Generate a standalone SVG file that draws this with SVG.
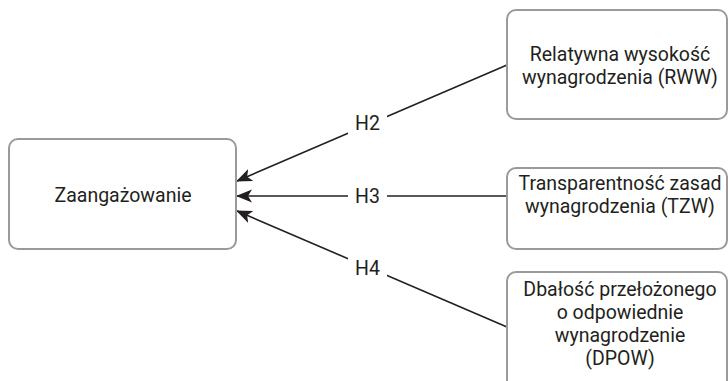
<svg xmlns="http://www.w3.org/2000/svg" width="728" height="381" viewBox="0 0 728 381">
<style>
.box{fill:#fff;stroke:#9a9a9a;stroke-width:2}
.t{font-family:Roboto,"Liberation Sans",sans-serif;font-size:19.5px;fill:#231f20;text-anchor:middle}
.edge{stroke:#231f20;stroke-width:1.6;fill:none}
.lbl{fill:#fff}
</style>
<defs>
<marker id="ah" viewBox="0 -7 16 14" refX="15" refY="0" markerWidth="16" markerHeight="14" markerUnits="userSpaceOnUse" orient="auto">
<path d="M0,-6.5 L16,0 L0,6.5 L4,0 Z" fill="#231f20"/>
</marker>
</defs>
<rect width="728" height="381" fill="#fff"/>
<g id="connectors">
<line class="edge" x1="507" y1="65" x2="237" y2="181" marker-end="url(#ah)"/>
<line class="edge" x1="507" y1="196" x2="237" y2="196" marker-end="url(#ah)"/>
<line class="edge" x1="507" y1="327" x2="237" y2="211" marker-end="url(#ah)"/>
<rect class="lbl" x="348" y="110" width="39" height="28"/>
<text class="t" x="367.5" y="130">H2</text>
<rect class="lbl" x="348" y="182" width="39" height="28"/>
<text class="t" x="367.5" y="203">H3</text>
<rect class="lbl" x="348" y="254" width="39" height="28"/>
<text class="t" x="367.5" y="275">H4</text>
</g>
<g id="zaang">
<rect class="box" x="9" y="139" width="227" height="110" rx="9"/>
<text class="t" x="123" y="202">Zaangażowanie</text>
</g>
<g id="rww">
<rect class="box" x="507" y="10" width="220" height="109" rx="9"/>
<text class="t" x="620" y="61">Relatywna wysokość</text>
<text class="t" x="620" y="84">wynagrodzenia (RWW)</text>
</g>
<g id="tzw">
<rect class="box" x="507" y="168" width="220" height="81" rx="9"/>
<text class="t" x="620" y="190">Transparentność zasad</text>
<text class="t" x="620" y="213">wynagrodzenia (TZW)</text>
</g>
<g id="dpow">
<rect class="box" x="507" y="272" width="220" height="120" rx="9"/>
<text class="t" x="620" y="296">Dbałość przełożonego</text>
<text class="t" x="620" y="319">o odpowiednie</text>
<text class="t" x="620" y="342">wynagrodzenie</text>
<text class="t" x="620" y="365">(DPOW)</text>
</g>
</svg>
